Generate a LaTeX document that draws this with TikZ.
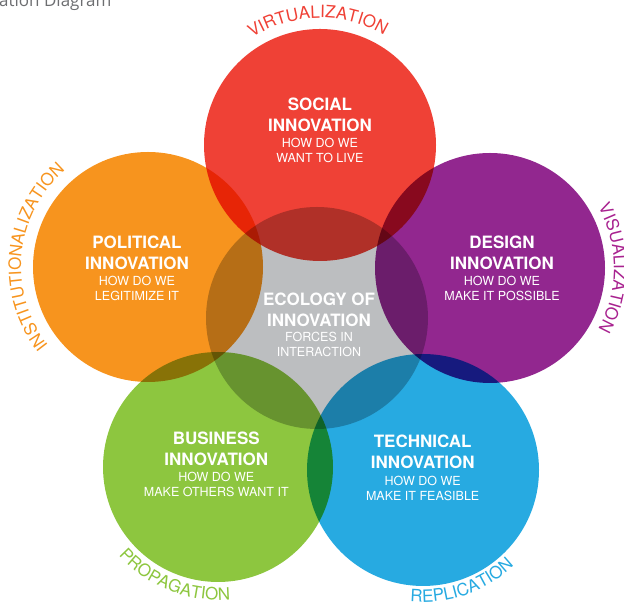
\documentclass[tikz,border=0pt]{standalone}
\usepackage{fontspec}
\setmainfont{TeX Gyre Heros}
\newfontfamily\headfont{Open Sans}
\usetikzlibrary{decorations.text}
\definecolor{cRed}{HTML}{EF4136}
\definecolor{cOrange}{HTML}{F7941E}
\definecolor{cPurple}{HTML}{92278F}
\definecolor{cPurpleT}{HTML}{A8228F}
\definecolor{cGreen}{HTML}{8DC63F}
\definecolor{cBlue}{HTML}{27AAE1}
\definecolor{cGray}{HTML}{BCBEC0}
\definecolor{cHead}{HTML}{6D6E71}
\begin{document}
\begin{tikzpicture}[x=1pt,y=1pt,
  disc/.style={fill=#1, blend mode=multiply},
  title/.style={text=white, align=center, font=\bfseries\fontsize{17}{21}\selectfont, inner sep=0pt},
  sub/.style={text=white, align=center, font=\fontsize{12.5}{15}\selectfont, inner sep=0pt},
  arclabel/.style={decorate, decoration={text along path, text align=center, text color=#1}},
]
\path[use as bounding box] (0,0) rectangle (624,609);
\coordinate (cS) at (320,464);
\coordinate (cP) at (148,342);
\coordinate (cD) at (490,341);
\coordinate (cB) at (218,142);
\coordinate (cT) at (423,139);
\coordinate (cE) at (317,291);

\fill[disc=cGray] (cE) circle[radius=111pt];
\fill[disc=cRed] (cS) circle[radius=116pt];
\fill[disc=cOrange] (cP) circle[radius=115pt];
\fill[disc=cPurple] (cD) circle[radius=115pt];
\fill[disc=cGreen] (cB) circle[radius=115pt];
\fill[disc=cBlue] (cT) circle[radius=116pt];

\node[anchor=base west, inner sep=0pt, text=cHead, font=\headfont\fontsize{17}{17}\selectfont] (head) at (-1,602) {ation Diagram};

\node[title] (tS) at (320,494.5) {SOCIAL\\INNOVATION};
\node[sub] (sS) at (320,459) {HOW DO WE\\WANT TO LIVE};
\node[title] (tP) at (137,356.3) {POLITICAL\\INNOVATION};
\node[sub] (sP) at (137,320.8) {HOW DO WE\\LEGITIMIZE IT};
\node[title] (tD) at (502,356.3) {DESIGN\\INNOVATION};
\node[sub] (sD) at (502,320.8) {HOW DO WE\\MAKE IT POSSIBLE};
\node[title] (tE) at (319,299.1) {ECOLOGY OF\\INNOVATION};
\node[sub] (sE) at (319,264.1) {FORCES IN\\INTERACTION};
\node[title] (tB) at (216.3,159.7) {BUSINESS\\INNOVATION};
\node[sub] (sB) at (216.3,124.3) {HOW DO WE\\MAKE OTHERS WANT IT};
\node[title] (tT) at (422.7,157) {TECHNICAL\\INNOVATION};
\node[sub] (sT) at (422.7,120.7) {HOW DO WE\\MAKE IT FEASIBLE};

\path[arclabel=cRed, decoration={text={|\fontsize{17}{17}\selectfont|VIRTUALIZATION}}]
  (cS) ++(131:127pt) arc[start angle=131, end angle=51, radius=127pt];
\path[arclabel=cOrange, decoration={text={|\fontsize{17}{17}\selectfont|INSTITUTIONALIZATION}}]
  (cP) ++(224.5:127pt) arc[start angle=224.5, end angle=124.5, radius=127pt];
\path[arclabel=cPurpleT, decoration={text={|\fontsize{17}{17}\selectfont|VISUALIZATION}}]
  (cD) ++(35:124pt) arc[start angle=35, end angle=-35, radius=124pt];
\path[arclabel=cGreen, decoration={text={|\fontsize{17}{17}\selectfont|PROPAGATION}}]
  (cB) ++(216:133pt) arc[start angle=216, end angle=281, radius=133pt];
\path[arclabel=cBlue, decoration={text={|\fontsize{17}{17}\selectfont|REPLICATION}}]
  (cT) ++(257:132pt) arc[start angle=257, end angle=321, radius=132pt];
\end{tikzpicture}
\end{document}
